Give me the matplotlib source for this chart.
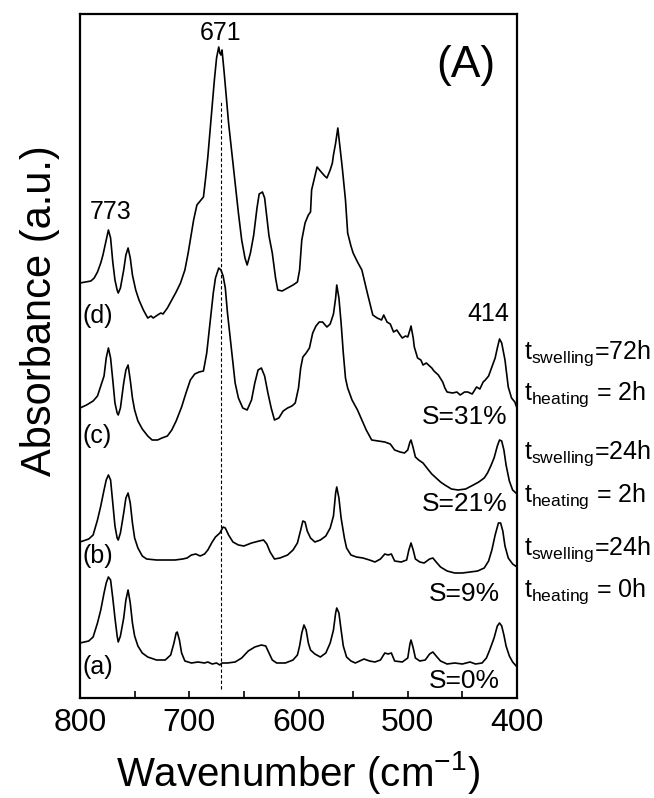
import matplotlib
matplotlib.use("Agg")
from matplotlib import pyplot as plt
from matplotlib.ticker import MultipleLocator

plt.rcParams['font.family'] = ['Liberation Sans', 'DejaVu Sans']
plt.rcParams['mathtext.fontset'] = 'custom'
plt.rcParams['mathtext.rm'] = 'Liberation Sans'
plt.rcParams['mathtext.it'] = 'Liberation Sans:italic'

# spectra as plotted (stacked, a.u.)
wn_a = [800, 792, 788, 784, 781, 778, 776, 774, 772, 770, 768, 766, 765, 763, 760, 758, 756, 754, 752, 750,
        747, 743, 738, 730, 722, 717, 714, 712, 711, 709, 707, 704, 698, 692, 686, 683, 679, 675, 672, 670,
        665, 658, 652, 646, 640, 634, 630, 627, 624, 620, 612, 605, 601, 599, 597, 595, 593, 591, 589, 585,
        580, 575, 571, 568, 566, 565, 563, 561, 559, 556, 552, 548, 544, 540, 535, 530, 525, 521, 518, 515,
        512, 505, 500, 498, 497, 495, 493, 489, 484, 480, 477, 474, 470, 464, 457, 450, 443, 438, 432, 428,
        425, 421, 418, 416, 414, 412, 410, 407, 404, 400]
abs_a = [55, 57, 61, 75, 88, 105, 115, 121, 118, 100, 80, 62, 56, 62, 80, 98, 108, 95, 75, 62,
         52, 45, 41, 38, 38, 43, 55, 65, 66, 58, 45, 37, 35, 36, 35, 36, 34, 35, 33, 35,
         35, 36, 40, 47, 51, 53, 52, 45, 38, 35, 35, 38, 43, 52, 65, 73, 68, 55, 48, 44,
         41, 45, 55, 68, 85, 90, 85, 68, 52, 41, 37, 35, 37, 39, 37, 36, 38, 45, 44, 45,
         37, 36, 40, 54, 58, 50, 40, 37, 38, 44, 46, 42, 37, 34, 35, 34, 36, 34, 35, 40,
         48, 60, 72, 75, 72, 63, 52, 42, 36, 31]

wn_b = [800, 792, 788, 784, 781, 778, 776, 774, 772, 770, 768, 766, 765, 763, 760, 758, 756, 754, 752, 750,
        747, 743, 739, 730, 720, 713, 706, 702, 698, 694, 690, 686, 683, 679, 676, 672, 669, 667, 664, 660,
        655, 650, 643, 636, 632, 629, 626, 622, 617, 610, 605, 601, 598, 596, 594, 592, 589, 585, 580, 575,
        571, 568, 566, 565, 563, 561, 558, 556, 552, 547, 541, 535, 530, 525, 521, 518, 515, 512, 506, 501,
        499, 497, 495, 493, 489, 485, 480, 477, 474, 470, 464, 457, 450, 443, 436, 430, 426, 423, 420, 417,
        415, 413, 411, 408, 404, 400]
abs_b = [156, 159, 163, 178, 192, 208, 218, 223, 218, 195, 172, 160, 158, 165, 185, 200, 205, 195, 175, 160,
         150, 142, 139, 138, 138, 138, 139, 140, 143, 144, 142, 144, 148, 156, 161, 165, 171, 170, 163, 156,
         153, 152, 155, 157, 158, 154, 146, 139, 140, 143, 148, 155, 168, 177, 176, 167, 160, 156, 158, 162,
         170, 182, 205, 211, 200, 180, 160, 150, 143, 141, 140, 138, 136, 139, 144, 143, 144, 137, 136, 138,
         148, 155, 148, 139, 136, 135, 139, 140, 136, 131, 127, 125, 125, 126, 127, 130, 137, 148, 163, 175,
         175, 167, 152, 140, 134, 131]

wn_c = [800, 794, 788, 784, 781, 778, 776, 774, 772, 770, 768, 766, 765, 763, 760, 758, 756, 754, 752, 750,
        747, 743, 738, 734, 729, 725, 720, 716, 712, 707, 703, 699, 695, 691, 687, 684, 681, 678, 676, 673,
        671, 669, 667, 665, 663, 660, 658, 655, 651, 647, 643, 640, 637, 634, 631, 628, 625, 622, 618, 614,
        610, 606, 603, 600, 598, 596, 593, 590, 587, 584, 581, 578, 574, 571, 568, 566, 565, 563, 561, 559,
        557, 555, 551, 546, 542, 538, 533, 527, 521, 516, 512, 507, 503, 500, 498, 497, 495, 493, 490, 486,
        481, 478, 475, 470, 466, 460, 454, 447, 440, 435, 430, 427, 424, 421, 418, 416, 414, 412, 410, 407,
        404, 400]
abs_c = [290, 293, 297, 302, 312, 322, 340, 350, 340, 318, 295, 285, 283, 290, 315, 328, 333, 318, 300, 288,
         277, 269, 262, 258, 258, 260, 262, 268, 277, 291, 305, 318, 324, 326, 327, 345, 375, 405, 420, 430,
         428, 422, 410, 385, 365, 335, 315, 300, 290, 288, 298, 315, 328, 330, 322, 305, 290, 278, 280, 287,
         290, 292, 295, 310, 330, 341, 345, 350, 365, 372, 376, 376, 371, 374, 384, 400, 413, 400, 375, 345,
         320, 310, 298, 288, 278, 268, 258, 257, 256, 254, 248, 246, 245, 248, 256, 258, 250, 241, 238, 235,
         228, 224, 221, 216, 213, 209, 208, 209, 213, 216, 220, 225, 232, 240, 252, 258, 257, 248, 233, 217,
         208, 204]

wn_d = [800, 795, 790, 787, 784, 781, 779, 776, 774, 772, 770, 768, 766, 765, 763, 760, 758, 756, 754, 752,
        749, 746, 742, 738, 735, 733, 729, 726, 724, 720, 716, 712, 708, 704, 701, 699, 696, 693, 690, 687,
        685, 683, 680, 677, 675, 673, 672, 671, 670, 668, 666, 664, 661, 658, 655, 652, 649, 647, 644, 641,
        638, 636, 633, 631, 629, 627, 624, 621, 619, 615, 610, 605, 601, 599, 597, 594, 591, 589, 588, 585,
        583, 580, 576, 574, 571, 569, 568, 566, 564, 562, 560, 557, 555, 552, 550, 546, 542, 537, 532, 528,
        524, 522, 519, 516, 513, 510, 507, 505, 502, 500, 498, 497, 495, 494, 491, 488, 486, 483, 481, 478,
        476, 472, 468, 466, 464, 459, 455, 452, 448, 445, 441, 437, 434, 431, 429, 426, 423, 420, 418, 416,
        414, 411, 408, 405, 402, 400]
abs_d = [415, 416, 417, 420, 426, 435, 443, 458, 468, 460, 436, 418, 408, 405, 410, 428, 443, 450, 440, 423,
         408, 398, 388, 380, 382, 380, 383, 385, 384, 390, 398, 406, 415, 428, 445, 458, 478, 493, 497, 501,
         520, 541, 580, 618, 640, 651, 645, 643, 648, 625, 600, 575, 545, 515, 485, 458, 440, 433, 445, 463,
         490, 504, 506, 500, 481, 462, 445, 420, 408, 407, 410, 413, 416, 428, 458, 475, 483, 486, 508, 522,
         531, 527, 522, 520, 528, 535, 543, 555, 570, 550, 531, 498, 465, 452, 445, 436, 428, 405, 383, 380,
         378, 383, 376, 374, 366, 368, 363, 360, 362, 361, 368, 372, 360, 351, 340, 338, 333, 335, 333, 330,
         327, 323, 316, 310, 306, 305, 306, 303, 306, 306, 304, 311, 309, 316, 318, 322, 331, 340, 350, 359,
         355, 338, 311, 300, 296, 290]

peak_label_671 = 671
fig = plt.figure(figsize=(6.54, 7.98), dpi=100)
ax = fig.add_axes([80/654, 1-698/798, 437/654, 684/798])

for wn, ab in [(wn_a, abs_a), (wn_b, abs_b), (wn_c, abs_c), (wn_d, abs_d)]:
    ax.plot(wn, ab, color='black', lw=1.2)

ax.axvline(peak_label_671, ymin=0.013, ymax=0.873, color='black', ls=(0, (3, 2)), lw=0.8)

ax.set_xlim(800, 400)
ax.set_ylim(0, 684)
ax.set_yticks([])
ax.xaxis.set_major_locator(MultipleLocator(100))
ax.xaxis.set_minor_locator(MultipleLocator(50))
ax.tick_params(axis='x', which='both', direction='in', length=5, width=1.2, labelsize=23, pad=7)
for s in ax.spines.values():
    s.set_linewidth(1.6)

ax.set_xlabel(r'Wavenumber (cm$^{\mathregular{-1}}$)', fontsize=29)
ax.xaxis.set_label_coords(0.5, -0.075)
ax.set_ylabel('Absorbance (a.u.)', fontsize=30)
ax.yaxis.set_label_coords(-0.045, 0.567)

ax.text(671, 665, '671', fontsize=18, ha='center', va='center')
ax.text(772, 486, '773', fontsize=18, ha='center', va='center')
ax.text(426, 384, '414', fontsize=18, ha='center', va='center')
ax.text(447, 632, '(A)', fontsize=32, ha='center', va='center')

for lab, y in [('(d)', 382), ('(c)', 262), ('(b)', 142), ('(a)', 31)]:
    ax.text(784, y, lab, fontsize=18, ha='center', va='center')
for lab, y in [('S=31%', 281), ('S=21%', 194), ('S=9%', 104), ('S=0%', 17)]:
    ax.text(448, y, lab, fontsize=19, ha='center', va='center')

cond = [(r'$\mathregular{t_{swelling}}$=72h', 339), (r'$\mathregular{t_{heating}}$ = 2h', 298),
        (r'$\mathregular{t_{swelling}}$=24h', 239), (r'$\mathregular{t_{heating}}$ = 2h', 196),
        (r'$\mathregular{t_{swelling}}$=24h', 143), (r'$\mathregular{t_{heating}}$ = 0h', 101)]
for lab, y in cond:
    ax.text(393.6, y, lab, fontsize=18, ha='left', va='baseline', clip_on=False)

fig.savefig("out.png", dpi=100)
